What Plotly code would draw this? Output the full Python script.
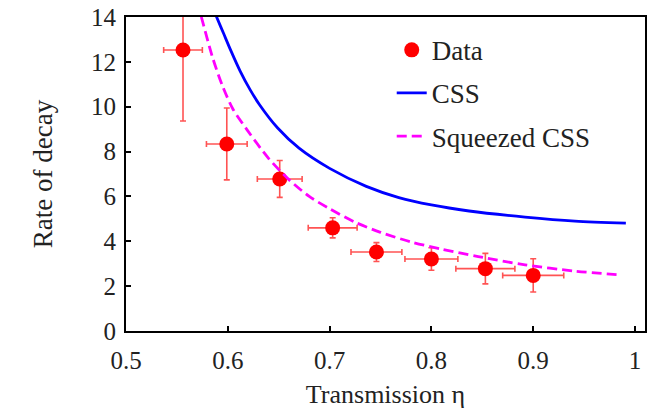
import plotly.graph_objects as go

# Measured decay rate versus transmission
eta = [0.556, 0.599, 0.651, 0.703, 0.746, 0.800, 0.853, 0.900]
rate = [12.53, 8.34, 6.78, 4.60, 3.52, 3.21, 2.78, 2.48]
rate_err = [3.17, 1.60, 0.82, 0.45, 0.42, 0.50, 0.68, 0.74]
eta_err = [0.019, 0.020, 0.022, 0.024, 0.025, 0.026, 0.029, 0.030]

# Theory curve: coherent spin state
css_eta = [0.585, 0.589, 0.596, 0.603, 0.612, 0.622, 0.631, 0.649, 0.670,
           0.700, 0.736, 0.768, 0.800, 0.837, 0.892, 0.941, 0.991]
css_rate = [14.45, 14.0, 13.25, 12.5, 11.6, 10.75, 10.1, 9.05, 8.15,
            7.25, 6.45, 5.95, 5.62, 5.35, 5.08, 4.90, 4.81]

# Theory curve: squeezed coherent spin state
sq_eta = [0.570, 0.574, 0.585, 0.595, 0.605, 0.620, 0.640, 0.660, 0.680,
          0.700, 0.725, 0.750, 0.780, 0.810, 0.846, 0.892, 0.941, 0.986]
sq_rate = [14.65, 14.0, 12.2, 10.9, 9.9, 8.9, 7.7, 6.75, 6.0,
           5.45, 4.85, 4.40, 3.97, 3.65, 3.32, 2.95, 2.67, 2.50]

x_ticks = [0.5, 0.6, 0.7, 0.8, 0.9, 1.0]
x_tick_text = ["0.5", "0.6", "0.7", "0.8", "0.9", "1"]
y_ticks = [0, 2, 4, 6, 8, 10, 12, 14]

FONT = "Liberation Serif"
TEXT = "#222222"
err_color = "rgba(255,40,40,0.8)"

fig = go.Figure()
fig.add_trace(go.Scatter(
    x=eta, y=rate, mode="markers", name="Data", legendgroup="a",
    marker=dict(color="#ff0000", size=15),
    error_y=dict(type="data", array=rate_err, color=err_color, thickness=1.6, width=3),
    error_x=dict(type="data", array=eta_err, color=err_color, thickness=1.6, width=3),
))
fig.add_trace(go.Scatter(
    x=css_eta, y=css_rate, mode="lines", name="CSS", legendgroup="b",
    line=dict(color="#0000ff", width=2.8, shape="spline", smoothing=0.8),
))
fig.add_trace(go.Scatter(
    x=sq_eta, y=sq_rate, mode="lines", name="Squeezed CSS", legendgroup="c",
    line=dict(color="#ff00ff", width=2.8, dash="10px,5px", shape="spline", smoothing=0.8),
))

axis_common = dict(
    showline=True, linecolor="black", linewidth=2, mirror=True,
    ticks="inside", ticklen=5, tickwidth=2, tickcolor="black",
    showgrid=False, zeroline=False,
    tickfont=dict(family=FONT, size=25, color=TEXT),
)

fig.update_layout(
    width=651, height=410,
    margin=dict(l=126, r=4, t=17, b=79),
    paper_bgcolor="white", plot_bgcolor="white",
    font=dict(family=FONT, size=25, color=TEXT),
    xaxis=dict(range=[0.5, 1.0098], tickvals=x_ticks, ticktext=x_tick_text,
               ticklabelstandoff=6,
               title=dict(text="Transmission η", font=dict(family=FONT, size=26, color=TEXT),
                          standoff=12),
               **axis_common),
    yaxis=dict(range=[0, 14], tickvals=y_ticks, ticklabelstandoff=3,
               title=dict(text="Rate of decay", font=dict(family=FONT, size=27, color=TEXT),
                          standoff=31),
               **axis_common),
    legend=dict(x=0.512, y=0.972, xanchor="left", yanchor="top",
                bgcolor="rgba(0,0,0,0)", font=dict(family=FONT, size=27, color=TEXT),
                tracegroupgap=5),
    showlegend=True,
)

fig.write_html("out.html")
